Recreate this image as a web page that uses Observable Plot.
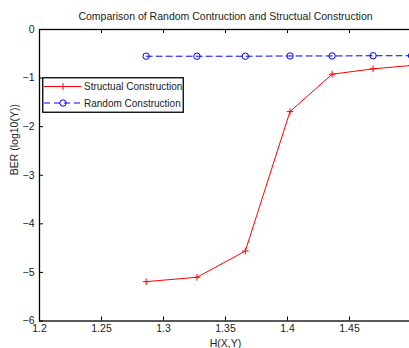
<!DOCTYPE html>
<html>
<head>
<meta charset="utf-8">
<script src="https://cdn.jsdelivr.net/npm/d3@7"></script>
<script src="https://cdn.jsdelivr.net/npm/@observablehq/plot@0.6"></script>
<style>
  html, body { margin: 0; padding: 0; background: #fff; overflow: hidden; width: 409px; height: 348px; }
  #wrap { position: relative; width: 409px; height: 348px; overflow: hidden; }
  #chart { position: absolute; left: 0; top: 0; width: 420px; }
  #chart svg { max-width: none !important; width: 420px !important; height: 348px !important; }
  #legend { position: absolute; left: 42px; top: 77px; }
  svg text { font-family: "Liberation Sans", Arial, Helvetica, sans-serif; }
</style>
</head>
<body>
<div id="wrap"><div id="chart"></div><div id="legend"></div></div>
<script>
const xValues = [1.286, 1.327, 1.366, 1.402, 1.436, 1.469, 1.5];
const structual = [-5.19, -5.10, -4.56, -1.69, -0.92, -0.81, -0.74];
const random = [-0.55, -0.55, -0.55, -0.545, -0.545, -0.54, -0.54];
const xTicks = [1.2, 1.25, 1.3, 1.35, 1.4, 1.45];
const yTicks = [0, -1, -2, -3, -4, -5, -6];
const seriesNames = ["Structual Construction", "Random Construction"];
const titleText = "Comparison of Random Contruction and Structual Construction";
const xLabel = "H(X,Y)";
const yLabel = "BER (log10(Y))";

const W = 420, H = 348;
const mL = 39, mR = 9, mT = 29, mB = 27.5;
const innerW = W - mL - mR, innerH = H - mT - mB;

const dataS = xValues.map((x, i) => ({x, y: structual[i]}));
const dataR = xValues.map((x, i) => ({x, y: random[i]}));
const fmt = d3.format("~g");

const chart = Plot.plot({
  width: W, height: H,
  marginLeft: mL, marginRight: mR, marginTop: mT, marginBottom: mB,
  style: {fontFamily: "'Liberation Sans', Arial, sans-serif", fontSize: "10px", color: "#222", background: "#fff"},
  x: {domain: [1.2, 1.5]},
  y: {domain: [-6, 0]},
  marks: [
    Plot.line(dataR, {x: "x", y: "y", stroke: "#0000ff", strokeWidth: 1, strokeDasharray: "6,4"}),
    Plot.dot(dataR, {x: "x", y: "y", r: 3.2, stroke: "#0000ff", fill: "none", strokeWidth: 1}),
    Plot.line(dataS, {x: "x", y: "y", stroke: "#ff0000", strokeWidth: 1}),
    Plot.dot(dataS, {x: "x", y: "y", symbol: "plus", r: 2.3, stroke: "#ff0000", strokeWidth: 1}),
    Plot.tickX(xTicks, {x: d => d, insetTop: innerH - 4, stroke: "#000"}),
    Plot.tickX(xTicks, {x: d => d, insetBottom: innerH - 4, stroke: "#000"}),
    Plot.tickY(yTicks, {y: d => d, insetRight: innerW - 4, stroke: "#000"}),
    Plot.axisX(xTicks, {tickSize: 0, tickPadding: 4, tickFormat: fmt, label: null, fontSize: 10.5}),
    Plot.axisY(yTicks, {tickSize: 0, tickPadding: 5, tickFormat: fmt, label: null, fontSize: 10.5}),
    Plot.text([xLabel], {frameAnchor: "bottom", dy: 26, text: d => d, fontSize: 10.5, fill: "#222"}),
    Plot.text([yLabel], {frameAnchor: "left", dx: -25, rotate: -90, text: d => d, fontSize: 10.5, fill: "#222"}),
    Plot.frame({stroke: "#000", strokeWidth: 1.3}),
    Plot.text([titleText], {frameAnchor: "top", dy: -17, text: d => d, fontSize: 10.5, fill: "#222"})
  ]
});
document.getElementById("chart").appendChild(chart);

// legend
const lg = d3.select("#legend").append("svg").attr("width", 142).attr("height", 36);
lg.append("rect").attr("x", 0.75).attr("y", 0.75).attr("width", 140.5).attr("height", 34.5).attr("fill", "#fff").attr("stroke", "#000").attr("stroke-width", 1.3);
const rows = [
  {name: seriesNames[0], color: "#ff0000", dash: null, y: 9.5, sym: "plus"},
  {name: seriesNames[1], color: "#0000ff", dash: "6,4", y: 26, sym: "circle"}
];
rows.forEach(r => {
  lg.append("line").attr("x1", 2).attr("x2", 39).attr("y1", r.y).attr("y2", r.y)
    .attr("stroke", r.color).attr("stroke-dasharray", r.dash);
  if (r.sym === "plus") {
    lg.append("path").attr("d", `M17.5,${r.y}h7M21,${r.y - 3.5}v7`).attr("stroke", r.color).attr("fill", "none");
  } else {
    lg.append("circle").attr("cx", 21).attr("cy", r.y).attr("r", 3.2).attr("stroke", r.color).attr("fill", "none");
  }
  lg.append("text").attr("x", 42).attr("y", r.y).attr("dy", "0.35em").attr("font-size", 10).attr("fill", "#222").text(r.name);
});
</script>
</body>
</html>
